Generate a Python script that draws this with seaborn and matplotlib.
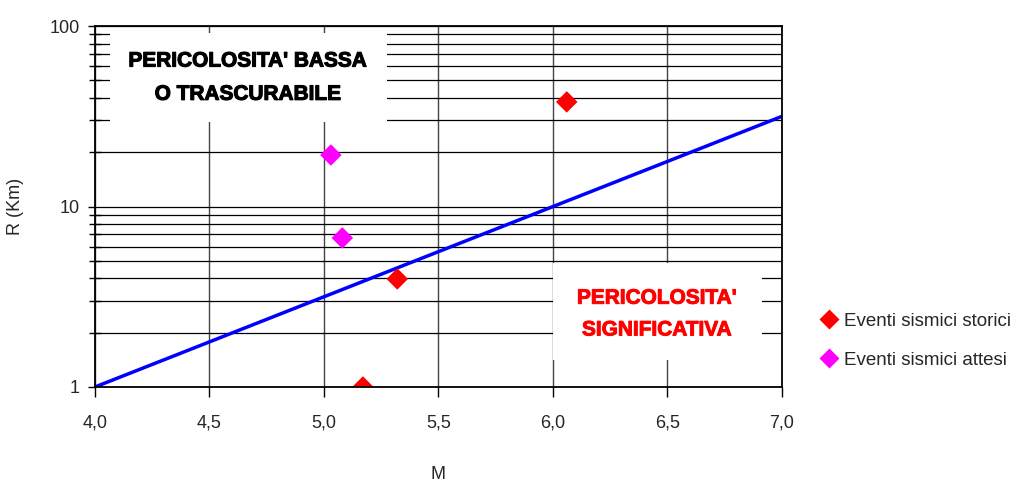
import numpy as np
import pandas as pd
import matplotlib
matplotlib.use("Agg")
import matplotlib.pyplot as plt
import matplotlib.patheffects as pe
from matplotlib.patches import Rectangle
from matplotlib.ticker import FixedLocator, LogLocator, NullFormatter, FuncFormatter
import seaborn as sns

# Magnitude / distance of seismic events
storici_M = [5.17, 5.32, 6.06]
storici_R = [1.0, 3.97, 38.0]
attesi_M = [5.03, 5.08]
attesi_R = [19.3, 6.7]

# Threshold line: log10(R) = 0.5 * (M - 4)
soglia_M = [4.0, 7.0]
soglia_R = [1.0, 31.62]

x_ticks = [4.0, 4.5, 5.0, 5.5, 6.0, 6.5, 7.0]
y_ticks = [1, 10, 100]

sns.set_theme(style="white")
plt.rcParams["font.family"] = ["Liberation Sans", "DejaVu Sans"]

events = pd.DataFrame({
    "M": storici_M + attesi_M,
    "R": storici_R + attesi_R,
    "serie": ["Eventi sismici storici"] * len(storici_M) + ["Eventi sismici attesi"] * len(attesi_M),
})
line = pd.DataFrame({"M": soglia_M, "R": soglia_R})

fig = plt.figure(figsize=(10.28, 4.83), dpi=100)
ax = fig.add_axes([0.0924, 0.1988, 0.6683, 0.7472])
ax.set_yscale("log")
ax.set_xlim(4.0, 7.0)
ax.set_ylim(1, 100)

# grid: vertical major lines and horizontal lines at every log step
ax.xaxis.set_major_locator(FixedLocator(x_ticks))
ax.yaxis.set_major_locator(FixedLocator(y_ticks))
ax.yaxis.set_minor_locator(LogLocator(base=10, subs=np.arange(2, 10)))
ax.yaxis.set_minor_formatter(NullFormatter())
ax.yaxis.set_major_formatter(FuncFormatter(lambda v, p: f"{v:g}"))
ax.xaxis.set_major_formatter(FuncFormatter(lambda v, p: f"{v:.1f}".replace(".", ",")))
ax.grid(True, which="major", axis="x", color="#444444", lw=1.0, zorder=0)
ax.grid(True, which="both", axis="y", color="black", lw=0.9, zorder=0)
ax.set_axisbelow(True)

# white label panels
ax.add_patch(Rectangle((0.0218, 0.735), 0.4032, 0.2465, transform=ax.transAxes,
                       facecolor="white", edgecolor="none", zorder=1))
ax.add_patch(Rectangle((0.667, 0.075), 0.3042, 0.2687, transform=ax.transAxes,
                       facecolor="white", edgecolor="none", zorder=1))
ax.text(0.2227, 0.857, "PERICOLOSITA' BASSA\nO TRASCURABILE", transform=ax.transAxes,
        ha="center", va="center", fontsize=15, fontweight="bold", color="black",
        linespacing=1.95, zorder=2,
        path_effects=[pe.Stroke(linewidth=0.8, foreground="black"), pe.Normal()])
ax.text(0.818, 0.202, "PERICOLOSITA'\nSIGNIFICATIVA", transform=ax.transAxes,
        ha="center", va="center", fontsize=15, fontweight="bold", color="#ff0000",
        linespacing=1.85, zorder=2,
        path_effects=[pe.Stroke(linewidth=0.7, foreground="#ff0000"), pe.Normal()])

sns.lineplot(data=line, x="M", y="R", color="#0000ff", lw=2.5, ax=ax, zorder=3, legend=False)
sns.scatterplot(data=events, x="M", y="R", hue="serie", marker="D", s=120,
                palette={"Eventi sismici storici": "#ff0000", "Eventi sismici attesi": "#ff00ff"},
                edgecolor="none", ax=ax, zorder=4)

for sp in ax.spines.values():
    sp.set_color("black")
    sp.set_linewidth(1.3)
    sp.set_zorder(5)

ax.tick_params(axis="x", which="major", direction="out", length=7, width=1, color="black",
               labelsize=13, pad=13, bottom=True)
ax.tick_params(axis="y", which="major", direction="out", length=5, width=1, color="black",
               labelsize=13, pad=6, left=True)
ax.tick_params(axis="y", which="minor", direction="inout", length=9, width=1, color="black", left=True)

ax.set_xlabel("M", fontsize=13, labelpad=25)
ax.set_ylabel("R (Km)", fontsize=13, labelpad=18)

handles, labels = ax.get_legend_handles_labels()
ax.legend(handles, labels, loc="center left", bbox_to_anchor=(1.022, 0.128), frameon=False,
          fontsize=13.5, handletextpad=0.0, labelspacing=1.15, markerscale=0.9,
          handlelength=1.6)

fig.savefig("out.png", dpi=100)
